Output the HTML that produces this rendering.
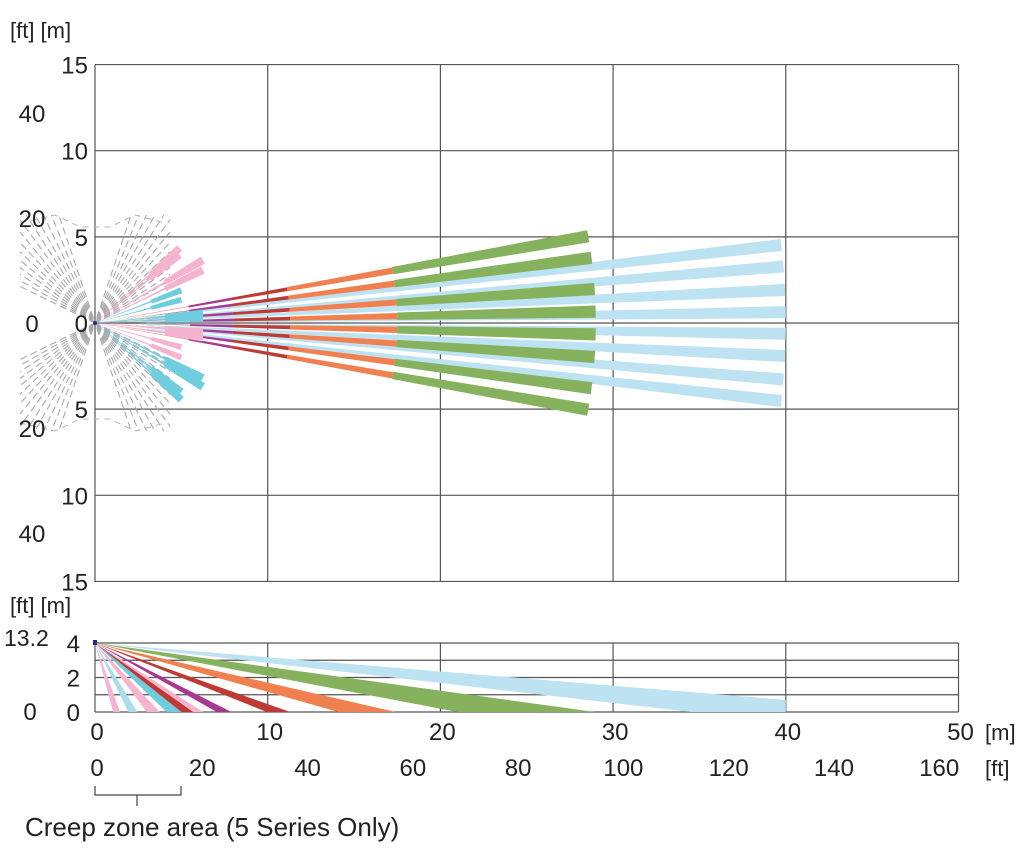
<!DOCTYPE html>
<html><head><meta charset="utf-8">
<style>
html,body{margin:0;padding:0;background:#fff;}
svg{display:block;font-family:"Liberation Sans",sans-serif;}
text{fill:#222;}
</style></head>
<body>
<svg id="chart" width="1024" height="858" viewBox="0 0 1024 858">
  <g id="grid"></g>
  <g id="gray"></g>
  <g id="beams"></g>
  <g id="side"></g>
  <g id="labels"></g>
</svg>
<script>
// ---- data ----
const xTicksM = [0,10,20,30,40,50];
const xTicksFt = [0,20,40,60,80,100,120,140,160];
const yTicksM = [15,10,5,0,-5,-10,-15];
const yTicksFt = [40,20,0,-20,-40];
const sideTicksM = [4,2,0];
const mainAngles = [10,7.5,3.9,1.3,-1.3,-3.9,-7.5,-10];
const segColors = ["#a8398f","#bd3a35","#f0804f","#86b25d"];
const segStart = [5.5,8,11.3,17.5];
const segEnd = [8,11.3,17.5,29];
const blueAngles = [6.5,4.7,2.75,0.9,-0.9,-2.75,-4.7,-6.5];
const blueRange = [3,40];
const nearX = [4.9,4.9,6.25,6.25,5.0,5.0,6.25,6.25,6.25,6.25,5.0,5.0,6.25,6.25,5.0,5.0];
const nearY = [4.35,3.95,3.65,3.07,1.9,1.35,0.58,0.3,-0.52,-0.87,-1.4,-2.0,-3.2,-3.7,-4.0,-4.45];
const nearC = ["p","p","p","p","c","c","c","c","p","p","p","p","c","c","c","c"];
const sideFrom = [1.05,1.93,3.0,4.15,5.0,5.7,7.05,9.95,14.1,21.0];
const sideTo   = [1.45,2.45,3.75,5.0,5.7,6.27,7.9,11.3,17.4,28.95];
const sideCol  = ["#f5b3cf","#a9dcec","#f5b3cf","#6fcde0","#bd3a35","#f5b3cf","#a8398f","#bd3a35","#f0804f","#86b25d"];
const sideBlue = [34.5,40,0.7];
// ---- scales ----
const X0=95, PX=17.27, Y0=323, TOPY=65, BOTY=582;
const sx = m => X0 + m*PX;
const sy = m => Y0 - m*17.23;
const SY0=712, sY = m => SY0 - m*17.25;
const NS="http://www.w3.org/2000/svg";
function mk(tag, parent, attrs){const e=document.createElementNS(NS,tag);for(const k in attrs)e.setAttribute(k,attrs[k]);parent.appendChild(e);return e;}
const grid=document.getElementById('grid'), gray=document.getElementById('gray'), beams=document.getElementById('beams'), side=document.getElementById('side'), labels=document.getElementById('labels');
xTicksM.forEach(t=>{const l=mk('line',grid,{x1:sx(t),x2:sx(t),y1:TOPY,y2:BOTY,stroke:'#555','stroke-width':1.2});

});
yTicksM.forEach(t=>{const l=mk('line',grid,{x1:X0,x2:sx(50),y1:sy(t),y2:sy(t),stroke:'#555','stroke-width':1.2});

});
[0,1,2,3,4].forEach(t=>{const l=mk('line',grid,{x1:X0,x2:sx(50),y1:sY(t),y2:sY(t),stroke:'#555','stroke-width':1.2});

});
xTicksM.forEach(t=>{const l=mk('line',grid,{x1:sx(t),x2:sx(t),y1:sY(4),y2:sY(0),stroke:'#555','stroke-width':1.2});

});
// gray dashed creep pattern: radial dashed lines forming an X
for(let s=0;s<4;s++){const dx=(s%2?-1:1), dy=(s<2?-1:1);
 for(let a=26;a<=72;a+=3.5){const rad=a*Math.PI/180;const ex=Math.min(75/Math.cos(rad), 108/Math.sin(rad));
  const l=mk('line',gray,{x1:X0,y1:Y0,x2:X0+dx*ex*Math.cos(rad),y2:Y0+dy*ex*Math.sin(rad),stroke:'#a9a9a9','stroke-width':1.1,'stroke-dasharray':'7,4','stroke-dashoffset':(a*3)%11});
  
  }}
[-1,1].forEach(dy=>{const p=mk('path',gray,{d:`M${X0-75} ${Y0+dy*100}L${X0-40} ${Y0+dy*108}L${X0-15} ${Y0+dy*96}L${X0+15} ${Y0+dy*96}L${X0+40} ${Y0+dy*108}L${X0+70} ${Y0+dy*100}`,fill:'none',stroke:'#b5b5b5','stroke-width':1,'stroke-dasharray':'6,5'});

});
function wedge(parent,ang,hw,r1,r2,col,name){const a1=(ang+hw)*Math.PI/180,a2=(ang-hw)*Math.PI/180;
 const P=(r,a)=>sx(r*Math.cos(a))+','+sy(r*Math.sin(a));
 const p=mk('polygon',parent,{points:[P(r1,a1),P(r2,a1),P(r2,a2),P(r1,a2)].join(' '),fill:col});
 
 }
const segHW=[0.55,0.55,0.6,0.7];
blueAngles.forEach(a=>{wedge(beams,a,0.08,0,blueRange[0],'#bde3f2','beam-lightblue-thin');wedge(beams,a,0.5,blueRange[0],blueRange[1],'#bde3f2','beam-lightblue');});
mainAngles.forEach(a=>{wedge(beams,a,0.12,0,segStart[0],'#bd3a35','beam-thin');
 segColors.forEach((c,i)=>wedge(beams,a,segHW[i],segStart[i],segEnd[i],c,'beam-segment'));});
nearX.forEach((x,i)=>{const r=Math.hypot(x,nearY[i]),a=Math.atan2(nearY[i],x)*180/Math.PI;const c=nearC[i]=='p'?'#f5b3cf':'#6fcde0';
 wedge(beams,a,0.7,0,r*0.65,c,'near-beam');wedge(beams,a,1.9,r*0.65,r,c,'near-beam-end');});
const o=mk('circle',beams,{cx:X0,cy:Y0,r:2,fill:'#2a2a8a'});


const ox=sx(0), oy=sY(4);
const sb=mk('polygon',side,{points:`${ox},${oy} ${sx(sideBlue[0])},${sY(0)} ${sx(sideBlue[1])},${sY(0)} ${sx(sideBlue[1])},${sY(sideBlue[2])}`,fill:'#bde3f2'});


sideFrom.forEach((f,i)=>{const p=mk('polygon',side,{points:`${ox},${oy} ${sx(f)},${sY(0)} ${sx(sideTo[i])},${sY(0)}`,fill:sideCol[i]});

});
const so=mk('rect',side,{x:ox-2,y:oy-3,width:4,height:5,fill:'#2a2a8a'});


function txt(x,y,s,anchor,size,name){const t=mk('text',labels,{x:x,y:y,'text-anchor':anchor||'start','font-size':size||23});t.textContent=s;
 
 return t;}
yTicksM.forEach(t=>txt(88,sy(t)+9,String(Math.abs(t)),'end',24,'y-tick-m'));
yTicksFt.forEach(t=>txt(32,sy(t*0.3048)+9,String(Math.abs(t)),'middle',24,'y-tick-ft'));
txt(10,38,'[ft] [m]','start',22,'y-unit-top');
txt(10,613,'[ft] [m]','start',22,'y-unit-side');
txt(4,646,'13.2','start',23,'side-tick-ft-top');
txt(30,720,'0','middle',24,'side-tick-ft-0');
sideTicksM.forEach(t=>txt(80,sY(t)+9,String(t),'end',24,'side-tick-m'));
xTicksM.forEach(t=>txt(sx(t)+2,740,String(t),'middle',24,'x-tick-m'));
txt(985,740,'[m]','start',22,'x-unit-m');
xTicksFt.forEach(t=>txt(sx(t*0.3048)+2,776,String(t),'middle',24,'x-tick-ft'));
txt(985,776,'[ft]','start',22,'x-unit-ft');
const br=mk('path',labels,{d:'M95 786V795H181V786M137 795V806',fill:'none',stroke:'#444','stroke-width':1.2});


txt(25,836,'Creep zone area (5 Series Only)','start',26,'creep-zone-caption');
</script>
</body></html>
